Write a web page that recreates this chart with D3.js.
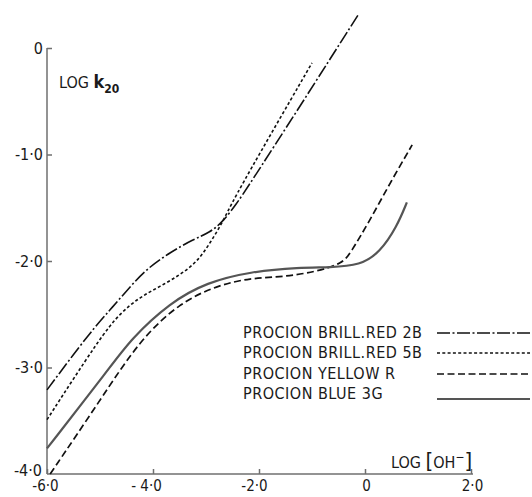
<!DOCTYPE html>
<html>
<head>
<meta charset="utf-8">
<script src="https://cdn.jsdelivr.net/npm/d3@7"></script>
<style>
  body { margin: 0; background: #fff; }
  svg text { font-family: "DejaVu Sans Condensed", "Liberation Sans Narrow", sans-serif; fill: #1a1a1a; }
</style>
</head>
<body>
<div id="chart"></div>
<script>

var xTicks = [-6, -4, -2, 0, 2];
var yTicks = [0, -1, -2, -3, -4];
var xTickLabels = ["-6·0", "- 4·0", "-2·0", "0", "2·0"];
var yTickLabels = ["0", "-1·0", "-2·0", "-3·0", "-4·0"];

var dyeNames = ["PROCION BRILL.RED 2B", "PROCION BRILL.RED 5B", "PROCION YELLOW R", "PROCION BLUE 3G"];

// log [OH-] , log k20
var red2B = [[-6.0, -3.21], [-5.19, -2.67], [-4.81, -2.46], [-4.43, -2.24], [-4.11, -2.07],
             [-3.68, -1.92], [-3.25, -1.80], [-2.92, -1.73], [-2.68, -1.63], [-2.42, -1.46],
             [-2.23, -1.32], [-1.23, -0.55], [-0.13, 0.31]];
var red5B = [[-6.0, -3.49], [-5.0, -2.72], [-4.62, -2.49], [-4.25, -2.34], [-3.87, -2.24],
             [-3.49, -2.13], [-3.17, -2.01], [-2.92, -1.83], [-2.68, -1.63], [-2.49, -1.43],
             [-1.79, -0.82], [-1.0, -0.14]];
var yellowR = [[-5.94, -4.0], [-5.0, -3.31], [-4.25, -2.74], [-3.49, -2.39], [-2.79, -2.23],
               [-2.17, -2.16], [-1.55, -2.15], [-0.91, -2.10], [-0.42, -2.02], [-0.28, -1.93],
               [0.09, -1.62], [0.47, -1.27], [0.89, -0.91]];
var blue3G = [[-6.0, -3.76], [-4.81, -3.0], [-4.43, -2.74], [-3.68, -2.39], [-2.98, -2.20],
              [-2.17, -2.10], [-1.23, -2.06], [-0.66, -2.06], [-0.09, -2.04], [0.28, -1.92],
              [0.60, -1.68], [0.79, -1.45]];

var width = 532;
var height = 497;

var svg = d3.select('#chart')
    .append('svg')
    .attr('width', width)
    .attr('height', height);

var x = d3.scaleLinear().domain([-6, 2]).range([47, 471]);
var y = d3.scaleLinear().domain([-4, 0]).range([474, 48]);

// axes, ticks point into the plot
var xAxis = svg.append('g')
    .attr('transform', 'translate(0,' + y(-4) + ')')
    .call(d3.axisBottom(x).tickValues(xTicks).tickSize(-5).tickPadding(6)
        .tickFormat(function(d, i) { return xTickLabels[i]; }));
xAxis.select('.domain').attr('d', 'M' + x(-6) + ',0H' + (x(2) + 2));
xAxis.selectAll('text')
    .attr('font-size', 15)
    .attr('dx', function(d) { return d === -6 ? -2 : d === -4 ? -7 : d === -2 ? -5 : 1; });

var yAxis = svg.append('g')
    .attr('transform', 'translate(' + x(-6) + ',0)')
    .call(d3.axisLeft(y).tickValues(yTicks).tickSize(-5).tickPadding(4)
        .tickFormat(function(d, i) { return yTickLabels[i]; }));
yAxis.select('.domain').attr('d', 'M0,' + y(0) + 'V' + y(-4));
yAxis.selectAll('text').attr('font-size', 16);
yAxis.selectAll('.tick').filter(function(d) { return d === -4; }).select('text')
    .attr('dy', '0.1em').attr('dx', -1);
yAxis.selectAll('.tick').filter(function(d) { return d === -4; }).select('line').remove();

svg.selectAll('.domain, .tick line')
    .attr('stroke', '#6f6f6f')
    .attr('stroke-width', 1.5);

// axis titles
var yTitle = svg.append('text').attr('x', 59).attr('y', 88).attr('font-size', 16);
yTitle.append('tspan').text('LOG ');
yTitle.append('tspan').attr('font-weight', 'bold').attr('font-size', 18).text('k');
yTitle.append('tspan').attr('font-size', 12).attr('dy', 5).attr('font-weight', 'bold').text('20');

var xTitle = svg.append('text').attr('x', 391).attr('y', 468).attr('font-size', 16);
xTitle.append('tspan').text('LOG ');
xTitle.append('tspan').attr('font-size', 22).text('[');
xTitle.append('tspan').text('OH');
xTitle.append('tspan').attr('dy', -7).attr('font-size', 12).text('−');
xTitle.append('tspan').attr('dy', 7).attr('font-size', 22).text(']');

// curves
var series = [
    {name: dyeNames[0], data: red2B, color: '#111', width: 1.6, dash: '13,2.5,2,2.5'},
    {name: dyeNames[1], data: red5B, color: '#111', width: 1.6, dash: '3,2.3'},
    {name: dyeNames[2], data: yellowR, color: '#111', width: 1.7, dash: '7,3.5'},
    {name: dyeNames[3], data: blue3G, color: '#555', width: 2.2, dash: null}
];

var line = d3.line()
    .x(function(d) { return x(d[0]); })
    .y(function(d) { return y(d[1]); })
    .curve(d3.curveBasis);

svg.selectAll('path.curve')
    .data(series)
    .enter()
    .append('path')
    .attr('class', 'curve')
    .attr('d', function(d) { return line(d.data); })
    .attr('fill', 'none')
    .attr('stroke', function(d) { return d.color; })
    .attr('stroke-width', function(d) { return d.width; })
    .attr('stroke-dasharray', function(d) { return d.dash; });

// legend
var legendY = [338, 358, 379, 399];
var legend = svg.selectAll('g.legend')
    .data(series)
    .enter()
    .append('g')
    .attr('class', 'legend')
    .attr('transform', function(d, i) { return 'translate(0,' + legendY[i] + ')'; });

legend.append('text')
    .attr('x', 243)
    .attr('y', 0)
    .attr('font-size', 16)
    .attr('letter-spacing', 0.5)
    .text(function(d) { return d.name; });

legend.append('line')
    .attr('x1', 437)
    .attr('x2', 530)
    .attr('y1', function(d, i) { return i === 3 ? 0 : -5; })
    .attr('y2', function(d, i) { return i === 3 ? 0 : -5; })
    .attr('stroke', function(d) { return d.color; })
    .attr('stroke-width', function(d) { return d.width; })
    .attr('stroke-dasharray', function(d) { return d.dash; });

</script>
</body>
</html>
